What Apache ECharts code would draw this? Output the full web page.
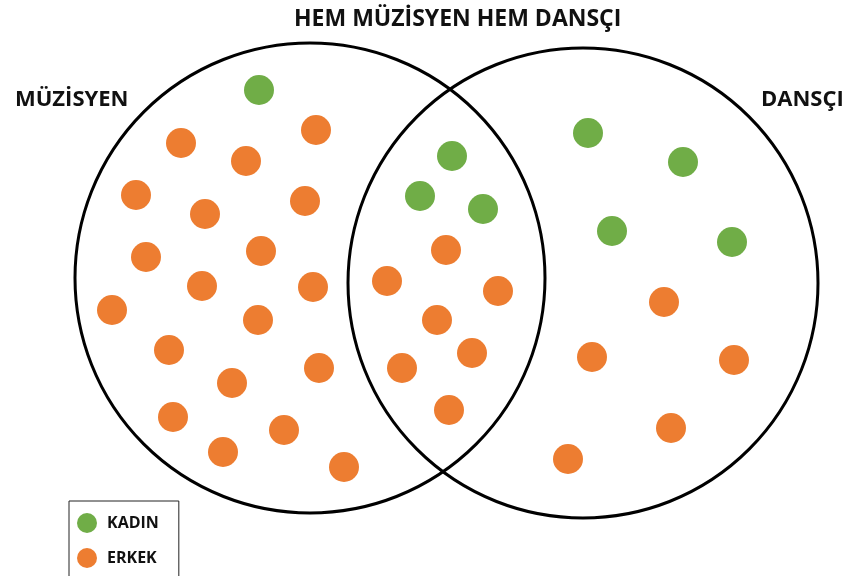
<!DOCTYPE html>
<html>
<head>
<meta charset="utf-8">
<script src="https://cdn.jsdelivr.net/npm/echarts@6/dist/echarts.min.js"></script>
<style>
  html, body { margin: 0; padding: 0; background: #fff; }
  #chart { width: 845px; height: 576px; }
</style>
</head>
<body>
<div id="chart"></div>
<script>
  // set circles: [centerX, centerY, radius] in picture units
  const setCircles = [[310, 278, 235], [583, 283, 235]];
  const setLabels = ['MÜZİSYEN', 'HEM MÜZİSYEN HEM DANSÇI', 'DANSÇI'];

  // people, [x, y]
  const kadin = [
    [259, 90],
    [452, 156], [420, 196], [483, 209],
    [588, 133], [683, 162], [612, 231], [732, 242]
  ];
  const erkek = [
    [316, 130], [181, 143], [246, 161], [136, 195], [205, 214], [305, 201],
    [146, 257], [261, 251], [202, 286], [313, 287], [112, 310], [258, 320],
    [169, 350], [319, 368], [232, 383], [173, 417], [284, 430], [223, 452], [344, 467],
    [446, 250], [387, 281], [498, 291], [437, 320], [472, 353], [402, 368], [449, 410],
    [664, 302], [592, 357], [734, 360], [671, 428], [568, 459]
  ];

  const FONT = '"Open Sans", sans-serif';
  const myChart = echarts.init(document.getElementById('chart'));

  const option = {
    animation: false,
    backgroundColor: '#ffffff',
    title: [
      { text: setLabels[1], left: 289, top: 3, textStyle: { fontFamily: FONT, fontWeight: 'bold', fontSize: 23, color: '#111' } },
      { text: setLabels[0], left: 10, top: 84, textStyle: { fontFamily: FONT, fontWeight: 'bold', fontSize: 22, color: '#111' } },
      { text: setLabels[2], left: 756, top: 84, textStyle: { fontFamily: FONT, fontWeight: 'bold', fontSize: 22, color: '#111' } }
    ],
    legend: {
      orient: 'vertical',
      left: 69,
      top: 501,
      height: 120,
      icon: 'circle',
      itemWidth: 20,
      itemHeight: 20,
      itemGap: 15,
      padding: [12, 20, 40, 8],
      borderColor: '#222',
      borderWidth: 1,
      textStyle: { fontFamily: FONT, fontWeight: 'bold', fontSize: 16, color: '#111', padding: [0, 0, 0, 5] },
      data: ['KADIN', 'ERKEK']
    },
    grid: { left: 0, right: 0, top: 0, bottom: 0 },
    xAxis: { type: 'value', min: 0, max: 845, show: false },
    yAxis: { type: 'value', min: 0, max: 576, inverse: true, show: false },
    series: [
      {
        type: 'custom',
        silent: true,
        z: 1,
        data: setCircles,
        renderItem: function (params, api) {
          const c = api.coord([api.value(0), api.value(1)]);
          const r = api.size([api.value(2), 0])[0];
          return {
            type: 'circle',
            shape: { cx: c[0], cy: c[1], r: r },
            style: { fill: 'none', stroke: '#000', lineWidth: 3 }
          };
        }
      },
      {
        name: 'KADIN',
        type: 'scatter',
        z: 2,
        symbolSize: 30,
        itemStyle: { color: '#70AD47', opacity: 1 },
        data: kadin
      },
      {
        name: 'ERKEK',
        type: 'scatter',
        z: 2,
        symbolSize: 30,
        itemStyle: { color: '#ED7D31', opacity: 1 },
        data: erkek
      }
    ]
  };

  myChart.setOption(option);
</script>
</body>
</html>
